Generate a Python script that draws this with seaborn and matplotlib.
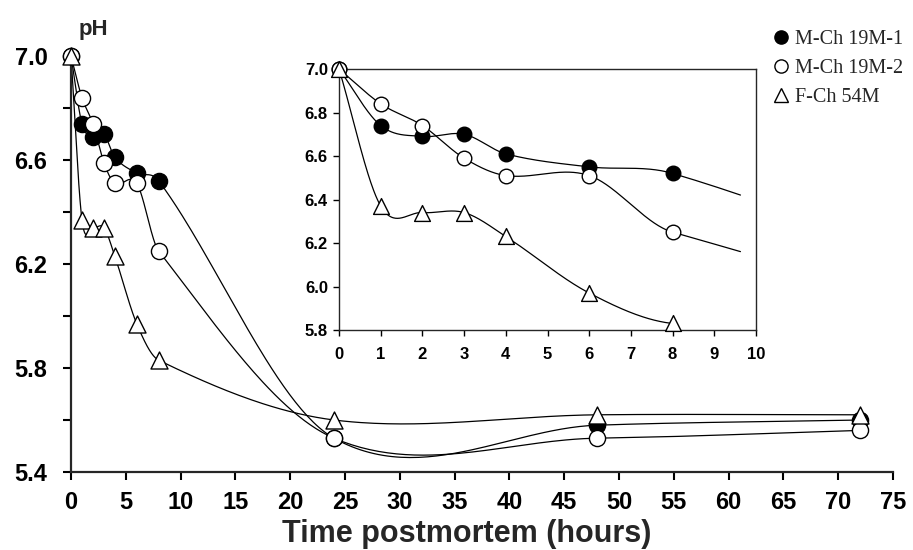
import numpy as np
import pandas as pd
import seaborn as sns
import matplotlib.pyplot as plt
from matplotlib.lines import Line2D

# pH readings
hours = [0, 1, 2, 3, 4, 6, 8, 24, 48, 72]
ph_mch19m_1 = [7.00, 6.74, 6.69, 6.70, 6.61, 6.55, 6.52, 5.53, 5.58, 5.60]
ph_mch19m_2 = [7.00, 6.84, 6.74, 6.59, 6.51, 6.51, 6.25, 5.53, 5.53, 5.56]
ph_fch54m = [7.00, 6.37, 6.34, 6.34, 6.23, 5.97, 5.83, 5.60, 5.62, 5.62]
series_names = ["M-Ch 19M-1", "M-Ch 19M-2", "F-Ch 54M"]

main_xticks = list(range(0, 80, 5))
main_yticks = [5.4, 5.6, 5.8, 6.0, 6.2, 6.4, 6.6, 6.8, 7.0]
inset_xticks = list(range(0, 11))
inset_yticks = [5.8, 6.0, 6.2, 6.4, 6.6, 6.8, 7.0]


def smooth(x, y, n=60):
    """Cubic Hermite curve through the points (drawing style of the original)."""
    x = np.asarray(x, float)
    y = np.asarray(y, float)
    m = np.empty_like(y)
    m[0] = (y[1] - y[0]) / (x[1] - x[0])
    m[-1] = (y[-1] - y[-2]) / (x[-1] - x[-2])
    m[1:-1] = (y[2:] - y[:-2]) / (x[2:] - x[:-2])
    t = np.linspace(0, 1, n)
    xs, ys = [], []
    for i in range(len(x) - 1):
        h = x[i + 1] - x[i]
        h00 = 2 * t**3 - 3 * t**2 + 1
        h10 = t**3 - 2 * t**2 + t
        h01 = -2 * t**3 + 3 * t**2
        h11 = t**3 - t**2
        xs.append(x[i] + t * h)
        ys.append(h00 * y[i] + h10 * h * m[i] + h01 * y[i + 1] + h11 * h * m[i + 1])
    return np.concatenate(xs), np.concatenate(ys)


series = [ph_mch19m_1, ph_mch19m_2, ph_fch54m]
styles = [("o", "black"), ("o", "white"), ("^", "white")]
inset_end = [9.7, 9.7, 8.0]  # where each curve stops inside the inset

curves = []
for name, vals in zip(series_names, series):
    cx, cy = smooth(hours, vals)
    curves.append(pd.DataFrame({"hour": cx, "pH": cy, "series": name}))
curves = pd.concat(curves, ignore_index=True)

sns.set_style("ticks")
plt.rcParams["font.family"] = ["Liberation Sans", "DejaVu Sans"]

fig = plt.figure(figsize=(9.13, 5.5), dpi=100)

# ---- main axes ----
ax = fig.add_axes([71 / 913, 1 - 472 / 550, 822 / 913, 416 / 550])
sns.lineplot(data=curves, x="hour", y="pH", units="series", estimator=None,
             sort=False, color="black", lw=0.9, ax=ax, legend=False)
for vals, (mk, fc) in zip(series, styles):
    sns.scatterplot(x=hours, y=vals, marker=mk, s=150 if mk == "^" else 135,
                    color=fc, edgecolor="black", linewidth=1.0, ax=ax,
                    clip_on=False, zorder=3, legend=False)

ax.set_xlim(0, 75)
ax.set_ylim(5.4, 7.0)
ax.set_xticks(main_xticks)
ax.set_yticks(main_yticks)
ax.set_yticklabels([f"{v:.1f}" if i % 2 == 0 else "" for i, v in enumerate(main_yticks)])
for s in ["top", "right"]:
    ax.spines[s].set_visible(False)
for s in ["left", "bottom"]:
    ax.spines[s].set_linewidth(1.6)
ax.tick_params(axis="both", direction="out", length=6, width=1.5, colors="black")
ax.tick_params(axis="x", labelsize=17, pad=8)
ax.tick_params(axis="y", labelsize=17, pad=11)
for lbl in ax.get_xticklabels() + ax.get_yticklabels():
    lbl.set_fontweight("bold")
ax.set_ylabel("")
ax.set_xlabel("Time postmortem (hours)", fontsize=22, fontweight="bold")
ax.xaxis.set_label_coords((467 - 71) / 822, (472 - 519) / 416)
ax.patch.set_alpha(0)

fig.text(93 / 913, 1 - 29 / 550, "pH", ha="center", va="center",
         fontsize=16, fontweight="bold")

# ---- inset axes ----
ins = fig.add_axes([339 / 913, 1 - 330 / 550, 417 / 913, 261 / 550])
inset_curves = pd.concat([curves[(curves["series"] == n) & (curves["hour"] <= e)]
                          for n, e in zip(series_names, inset_end)])
sns.lineplot(data=inset_curves, x="hour", y="pH", units="series", estimator=None,
             sort=False, color="black", lw=0.9, ax=ins, legend=False)
for vals, (mk, fc) in zip(series, styles):
    xs = [h for h in hours if h <= 10]
    ys = vals[:len(xs)]
    sns.scatterplot(x=xs, y=ys, marker=mk, s=130 if mk == "^" else 110,
                    color=fc, edgecolor="black", linewidth=1.0, ax=ins,
                    clip_on=False, zorder=3, legend=False)
ins.set_xlim(0, 10)
ins.set_ylim(5.8, 7.0)
ins.set_xticks(inset_xticks)
ins.set_yticks(inset_yticks)
ins.set_yticklabels([f"{v:.1f}" for v in inset_yticks])
ins.set_xlabel("")
ins.set_ylabel("")
for s in ins.spines.values():
    s.set_visible(True)
    s.set_linewidth(1.0)
ins.tick_params(axis="both", direction="out", length=4, width=1.0,
                labelsize=12, colors="black")
ins.tick_params(axis="x", pad=8)
ins.tick_params(axis="y", pad=4)
for lbl in ins.get_xticklabels() + ins.get_yticklabels():
    lbl.set_fontweight("bold")

# ---- legend ----
handles = [Line2D([], [], ls="none", marker=mk, markersize=9.5 if mk == "o" else 10.5,
                  markerfacecolor=fc, markeredgecolor="black", markeredgewidth=1.0)
           for mk, fc in styles]
fig.legend(handles, series_names, loc="upper left",
           bbox_to_anchor=(764 / 913, 1 - 20 / 550), frameon=False,
           borderpad=0, handlelength=0.7, handletextpad=0.35, labelspacing=0.5,
           prop={"family": "Liberation Serif", "size": 14.5})

fig.savefig("out.png", dpi=100)
